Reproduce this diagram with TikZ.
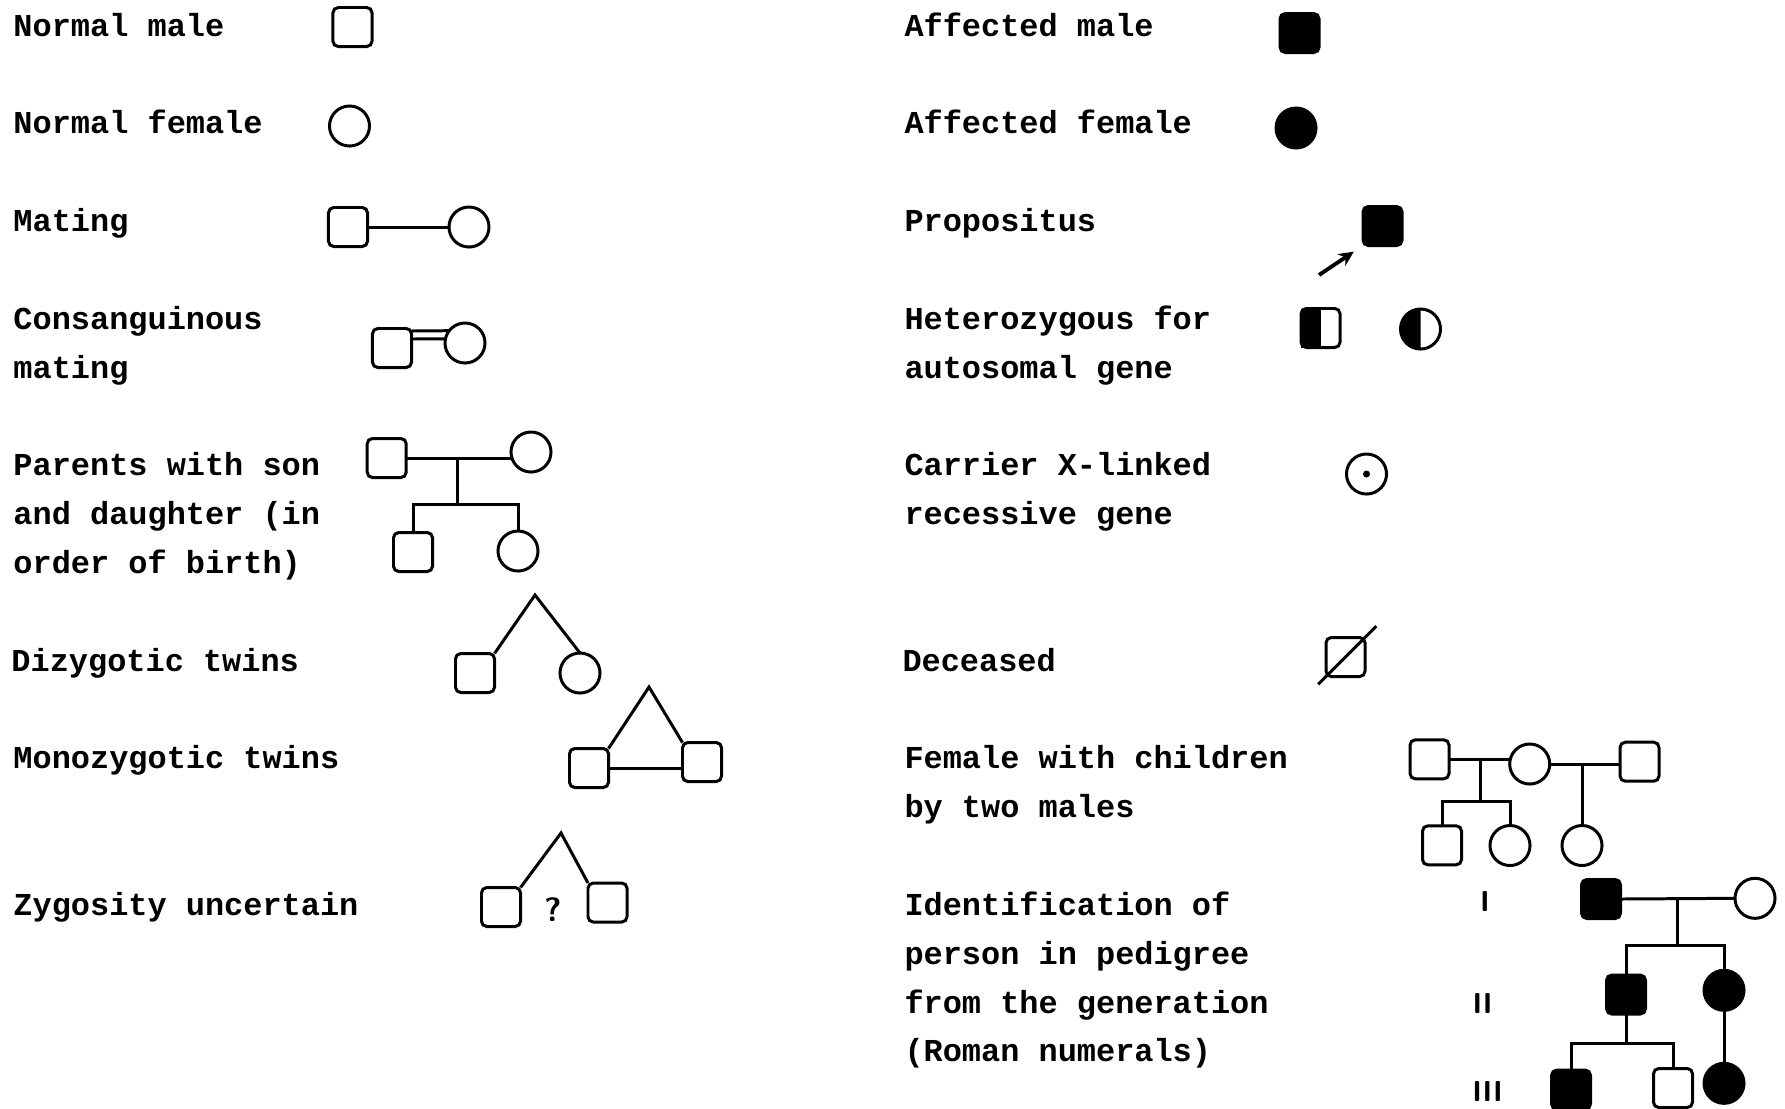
\documentclass[tikz,border=0pt]{standalone}
\usepackage{fontspec}
\setmonofont{Liberation Mono}
\usetikzlibrary{arrows.meta}

\newcommand{\legendfont}{\fontsize{9.08}{13.86}\selectfont\ttfamily\bfseries}

\begin{document}
\begin{tikzpicture}[
        x=0.01cm, y=-0.01cm, line width=0.85pt,
        desc/.style={anchor=base west, inner sep=0, align=left, font=\legendfont},
        male/.style={rectangle, draw, rounded corners=1.5pt, minimum size=0.39cm, inner sep=0, outer sep=0},
        female/.style={circle, draw, minimum size=0.4cm, inner sep=0, outer sep=0},
        affected/.style={fill=black},
        numeral/.style={anchor=base, inner sep=0, font=\sffamily\bfseries\fontsize{8.2}{8.2}\selectfont},
        arrow/.style={-{Stealth[length=0.15cm, width=0.14cm]}, line width=1.1pt, shorten >=0.11cm}
    ]
    \useasboundingbox (0,0) rectangle (1785,1108);

    % Texts, left column (placed at the baseline of their last line)
    \node[desc] (tnm) at (12,36) {Normal male};
    \node[desc] (tnf) at (12,133.7) {Normal female};
    \node[desc] (tmat) at (12,231.4) {Mating};
    \node[desc] (tcon) at (12,378) {Consanguinous\\mating};
    \node[desc] (tpar) at (12,573.4) {Parents with son\\and daughter (in\\order of birth)};
    \node[desc] (tdz) at (10,671) {Dizygotic twins};
    \node[desc] (tmz) at (12,768.8) {Monozygotic twins};
    \node[desc] (tzu) at (12,915.3) {Zygosity uncertain};

    % Texts, right column
    \node[desc] (tam) at (903,36) {Affected male};
    \node[desc] (taf) at (903,133.7) {Affected female};
    \node[desc] (tprop) at (903,231.4) {Propositus};
    \node[desc] (thet) at (903,378) {Heterozygous for\\autosomal gene};
    \node[desc] (tcar) at (903,524.6) {Carrier X-linked\\recessive gene};
    \node[desc] (tdec) at (901,671) {Deceased};
    \node[desc] (tfem) at (903,817.7) {Female with children\\by two males};
    \node[desc] (tid) at (903,1061.9) {Identification of\\person in pedigree\\from the generation\\(Roman numerals)};

    % Symbols, left column
    \node[male] (nm) at (352.5,27) {};
    \node[female] (nf) at (349.5,126) {};
    \node[male] (matm) at (348,227) {};
    \node[female] (matf) at (469,227) {};
    \node[male] (conm) at (392,348) {};
    \node[female] (conf) at (465,343) {};
    \node[male] (parm) at (386.7,458) {};
    \node[female] (parf) at (531,452) {};
    \coordinate (parj) at (457,458);
    \coordinate (pars) at (457,504);
    \node[male] (son) at (413,552) {};
    \node[female] (dau) at (518,551) {};
    \coordinate (dzt) at (535,595);
    \node[male] (dz1) at (475,673) {};
    \node[female] (dz2) at (580,673) {};
    \coordinate (mzt) at (649,687);
    \node[male] (mz1) at (589,768) {};
    \node[male] (mz2) at (702,762) {};
    \coordinate (zut) at (561,833);
    \node[male] (zu1) at (501,907) {};
    \node[male] (zu2) at (607.5,902.5) {};
    \node[anchor=base, inner sep=0, font=\sffamily\bfseries\fontsize{9.6}{9.6}\selectfont] (zuq) at (553,921) {?};

    % Lines, left column
    \draw (matm.east) -- (matf.west);
    \draw ([yshift=0.17cm]conm.east) -- (conf.142);
    \draw ([yshift=0.09cm]conm.east) -- (conf.168);
    \draw (parm.east) -- (parm.east -| parf.west);
    \draw (parj) -- (pars);
    \draw (son.north) |- (pars) -| (dau.north);
    \draw (dz1.north east) -- (dzt) -- (dz2.north);
    \draw (mz1.north east) -- (mzt) -- (mz2.north west);
    \draw (mz1.east) -- (mz1.east -| mz2.west);
    \draw (zu1.north east) -- (zut) -- (zu2.north west);

    % Symbols, right column
    \node[male, affected] (am) at (1299.5,33) {};
    \node[female, affected] (af) at (1296,128) {};
    \node[male, affected] (prop) at (1382.5,226) {};
    \coordinate (propa) at (1319,275);
    \node[male] (hetm) at (1320.5,328) {};
    \node[female] (hetf) at (1420.5,329) {};
    \node[female] (car) at (1366.5,474) {};
    \node[male] (dec) at (1345.5,657) {};

    \draw[arrow] (propa) -- (prop.south west);
    \fill (hetm.south west) rectangle (hetm.north);
    \fill (hetf.south) arc[start angle=270, end angle=90, radius=0.2cm] -- cycle;
    \fill (car.center) circle[radius=0.035cm];
    \draw[shorten <=-0.11cm, shorten >=-0.16cm] (dec.south west) -- (dec.north east);

    % Female with children by two males
    \node[male] (fm1) at (1429.5,759.3) {};
    \node[female] (ff) at (1529.7,764) {};
    \node[male] (fm2) at (1639.5,761.7) {};
    \coordinate (fj1) at (1480,759.3);
    \coordinate (fs1) at (1480,801);
    \node[male] (fc1) at (1442,845.3) {};
    \node[female] (fc2) at (1510,845.5) {};
    \coordinate (fj2) at (1582,764);
    \node[female] (fc3) at (1582,845.5) {};

    \draw (fm1.east) -- (fm1.east -| ff.west);
    \draw (ff.east) -- (ff.east -| fm2.west);
    \draw (fj1) -- (fs1);
    \draw (fc1.north) |- (fs1) -| (fc2.north);
    \draw (fj2) -- (fc3.north);

    % Pedigree with generations
    \node[numeral] (gen1) at (1485,911.7) {I};
    \node[numeral] (gen2) at (1482.5,1013) {II};
    \node[numeral] (gen3) at (1487.5,1101.7) {III};
    \node[male, affected] (p1m) at (1601,899) {};
    \node[female] (p1f) at (1755,898.3) {};
    \coordinate (p1j) at (1677.3,899);
    \coordinate (p1s) at (1677.3,945.7);
    \node[male, affected] (p2m) at (1626,994.5) {};
    \node[female, affected] (p2f) at (1724,990.3) {};
    \coordinate (p2s) at (1626,1043.3);
    \node[male, affected] (p3m) at (1571,1089.6) {};
    \node[male] (p3n) at (1673,1088) {};
    \node[female, affected] (p3f) at (1724,1083.3) {};

    \draw (p1m.east) -- (p1f.west);
    \draw (p1j) -- (p1s);
    \draw (p2m.north) |- (p1s) -| (p2f.north);
    \draw (p2m.south) -- (p2s);
    \draw (p3m.north) |- (p2s) -| (p3n.north);
    \draw (p2f.south) -- (p3f.north);

\end{tikzpicture}
\end{document}
